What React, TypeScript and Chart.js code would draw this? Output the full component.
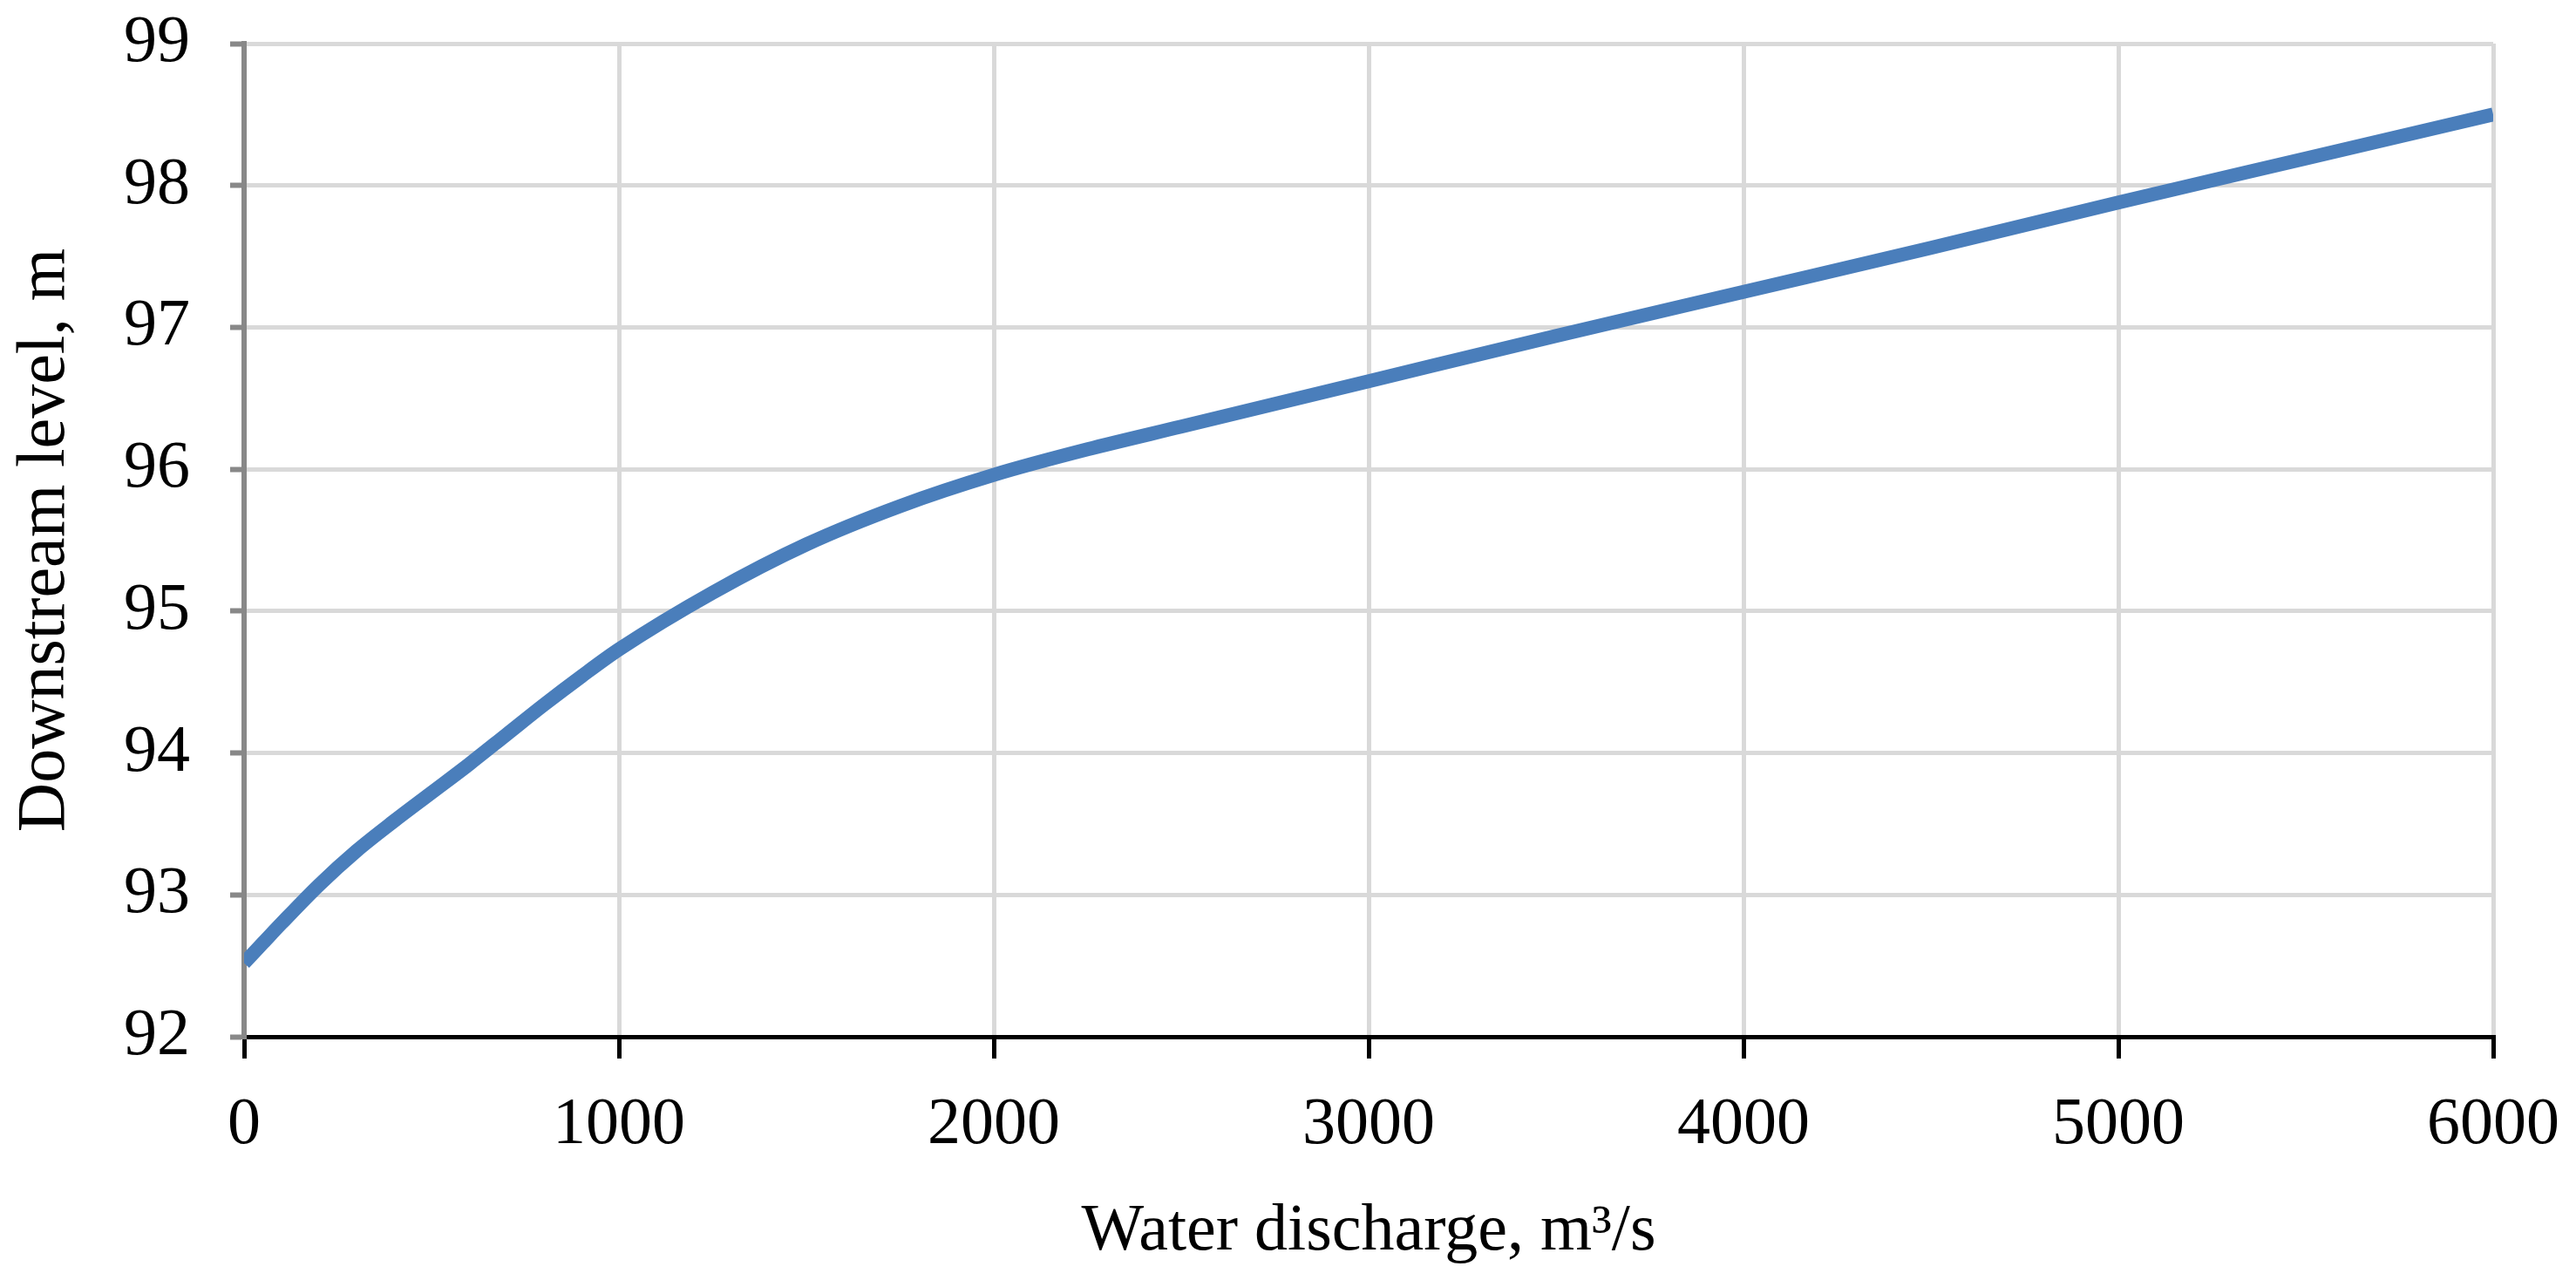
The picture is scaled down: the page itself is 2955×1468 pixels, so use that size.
import React, { useEffect, useRef } from "react";
import { Chart, registerables } from "chart.js";

Chart.register(...registerables);

const discharge = [0, 50, 100, 200, 300, 400, 500, 600, 700, 800, 900, 1000, 1250, 1500, 1750, 2000, 2250, 2500, 3000, 3500, 4000, 4500, 5000, 5500, 6000];
const level = [92.52, 92.66, 92.8, 93.07, 93.31, 93.52, 93.72, 93.92, 94.13, 94.34, 94.54, 94.73, 95.13, 95.47, 95.74, 95.96, 96.14, 96.3, 96.62, 96.94, 97.25, 97.56, 97.88, 98.19, 98.5];

const xTitle = "Water discharge, m³/s";
const yTitle = "Downstream level, m";
const xMin = 0, xMax = 6000, xStep = 1000;
const yMin = 92, yMax = 99, yStep = 1;

export default function App() {
  const ref = useRef<HTMLCanvasElement | null>(null);
  useEffect(() => {
    if (!ref.current) return;
    const fontFamily = "'Liberation Serif', 'Times New Roman', serif";
    const chart = new Chart(ref.current, {
      type: "line",
      data: {
        datasets: [
          {
            data: discharge.map((q, i) => ({ x: q, y: level[i] })),
            borderColor: "#4a7ebb",
            borderWidth: 16,
            pointRadius: 0,
            cubicInterpolationMode: "monotone",
            fill: false,
          },
        ],
      },
      options: {
        animation: false,
        responsive: true,
        maintainAspectRatio: false,
        layout: { padding: { top: 50, right: 95, left: 0, bottom: 0 } },
        plugins: { legend: { display: false }, tooltip: { enabled: false } },
        scales: {
          x: {
            type: "linear",
            min: xMin,
            max: xMax,
            afterFit: (s: any) => {
              s.height = 279;
              s.paddingLeft = 0;
              s.paddingRight = 0;
            },
            ticks: {
              stepSize: xStep,
              color: "#000",
              font: { family: fontFamily, size: 76 },
              padding: 31,
              maxRotation: 0,
              callback: (v: any) => String(v),
            },
            grid: { color: "#d9d9d9", lineWidth: 5, tickColor: "#000", tickWidth: 5, tickLength: 25 },
            border: { color: "#000", width: 5 },
            title: { display: true, text: xTitle, color: "#000", font: { family: fontFamily, size: 76, lineHeight: 1.2 }, padding: { top: 9, bottom: 9 } },
          },
          y: {
            type: "linear",
            min: yMin,
            max: yMax,
            afterFit: (s: any) => {
              s.width = 280;
              s.paddingTop = 0;
              s.paddingBottom = 0;
            },
            ticks: { stepSize: yStep, color: "#000", font: { family: fontFamily, size: 76 }, padding: 46, callback: (v: any) => String(v) },
            grid: { color: "#d9d9d9", lineWidth: 5, tickColor: "#888888", tickWidth: 6, tickLength: 16 },
            border: { color: "#888888", width: 6 },
            title: { display: true, text: yTitle, color: "#000", font: { family: fontFamily, size: 78, lineHeight: 1 }, padding: { top: 14, bottom: 14 } },
          },
        },
      },
    });
    return () => chart.destroy();
  }, []);
  return (
    <div style={{ position: "fixed", left: 0, top: 0, width: "2955px", height: "1468px", background: "#fff" }}>
      <canvas ref={ref} />
    </div>
  );
}
